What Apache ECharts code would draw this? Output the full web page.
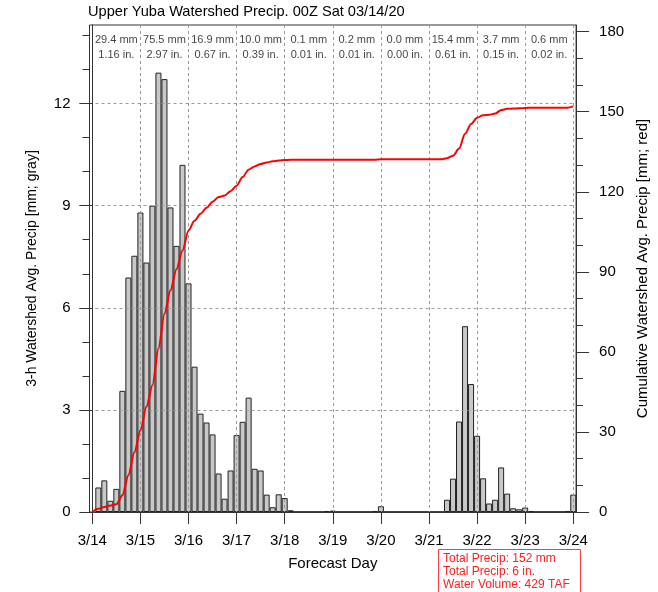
<!DOCTYPE html>
<html>
<head>
<meta charset="utf-8">
<title>Upper Yuba Watershed Precip</title>
<script src="https://cdn.jsdelivr.net/npm/echarts@6/dist/echarts.min.js"></script>
<style>
  html, body { margin: 0; padding: 0; background: #fff; }
  #chart { width: 658px; height: 592px; }
</style>
</head>
<body>
<div id="chart"></div>
<script>
// hours are counted from 00Z 3/14, each bar is the 3-h total ending at its hour
var dayHours = [0, 24, 48, 72, 96, 120, 144, 168, 192, 216, 240];
var dayLabels = ['3/14', '3/15', '3/16', '3/17', '3/18', '3/19', '3/20', '3/21', '3/22', '3/23', '3/24'];

// daily totals printed along the top
var dayMm = [29.4, 75.5, 16.9, 10.0, 0.1, 0.2, 0.0, 15.4, 3.7, 0.6];
var dayIn = [1.16, 2.97, 0.67, 0.39, 0.01, 0.01, 0.00, 0.61, 0.15, 0.02];

// 3-h watershed avg precip [mm], hours 3..240
var precip3h = [
  0.72, 0.93, 0.33, 0.68, 3.56, 6.89, 7.53, 8.80,
  7.33, 9.00, 12.91, 12.72, 8.95, 7.82, 10.20, 6.72,
  4.27, 2.89, 2.63, 2.28, 1.13, 0.39, 1.22, 2.26,
  2.65, 3.36, 1.27, 1.22, 0.51, 0.14, 0.52, 0.41,
  0.05, 0, 0, 0, 0, 0, 0.03, 0.04,
  0, 0, 0, 0, 0, 0, 0.03, 0.17,
  0, 0, 0, 0, 0, 0, 0, 0,
  0, 0, 0.36, 0.98, 2.66, 5.46, 3.76, 2.24,
  0.99, 0.25, 0.36, 1.31, 0.54, 0.11, 0.08, 0.13,
  0.03, 0, 0, 0, 0, 0, 0.03, 0.51
];

// cumulative precip [mm], hours 0..240 every 3 h
var cumPrecip = [
  0, 1.2, 1.9, 2.4, 2.9, 6.3, 13.8, 22.4,
  30.6, 39.4, 47.5, 61.2, 74.3, 83.1, 91.0, 98.0,
  105.5, 109.1, 111.8, 114.0, 116.3, 118.0, 118.6, 120.2,
  122.3, 125.5, 128.3, 129.5, 130.4, 131.0, 131.4, 131.7,
  131.9, 132.0, 132.0, 132.0, 132.0, 132.0, 132.0, 132.0,
  132.0, 132.0, 132.0, 132.0, 132.0, 132.0, 132.0, 132.0,
  132.2, 132.2, 132.2, 132.2, 132.2, 132.2, 132.2, 132.2,
  132.2, 132.2, 132.2, 132.6, 133.5, 136.2, 141.7, 145.4,
  147.7, 148.7, 148.9, 149.3, 150.6, 151.1, 151.2, 151.3,
  151.4, 151.5, 151.5, 151.5, 151.5, 151.5, 151.5, 151.5,
  152.0
];

var leftTicks = [0, 3, 6, 9, 12];
var leftMinor = [0, 1, 2, 3, 4, 5, 6, 7, 8, 9, 10, 11, 12, 13, 14];
var rightTicks = [0, 30, 60, 90, 120, 150, 180];
var rightMinor = [0, 10, 20, 30, 40, 50, 60, 70, 80, 90, 100, 110, 120, 130, 140, 150, 160, 170, 180];

var totalMm = 152, totalIn = 6, volumeTaf = 429;

var barData = [];
for (var i = 0; i < precip3h.length; i++) barData.push([(i + 1) * 3, precip3h[i]]);
var cumData = [];
for (var j = 0; j < cumPrecip.length; j++) cumData.push([j * 3, cumPrecip[j]]);
var noteData = [];
for (var d = 0; d < dayMm.length; d++) noteData.push([dayHours[d] + 12, 13.65]);

var axisColor = '#333';
var dash = { color: '#9a9a9a', type: [3, 3], width: 1 };
var font = 'Liberation Sans, Arial, Helvetica, sans-serif';

var chart = echarts.init(document.getElementById('chart'));
var option = {
  animation: false,
  textStyle: { fontFamily: font, color: '#000' },
  title: {
    text: 'Upper Yuba Watershed Precip. 00Z Sat 03/14/20',
    left: 88, top: 4, padding: 0,
    textStyle: { fontSize: 14.6, fontWeight: 'normal', color: '#000', fontFamily: font }
  },
  grid: { left: 89.5, right: 81.3, top: 25, bottom: 80, show: true, borderColor: axisColor, borderWidth: 1 },
  xAxis: {
    type: 'value', min: -1.4, max: 241.4, z: 3,
    name: 'Forecast Day', nameLocation: 'middle', nameGap: 44,
    nameTextStyle: { fontSize: 15, color: '#000' },
    axisLine: { show: true, lineStyle: { color: axisColor } },
    axisTick: { show: true, customValues: dayHours, length: 12, lineStyle: { color: axisColor } },
    axisLabel: {
      customValues: dayHours, fontSize: 15, margin: 21, color: '#000',
      formatter: function (v) { return dayLabels[dayHours.indexOf(v)]; }
    },
    splitLine: { show: true, lineStyle: dash }
  },
  yAxis: [{
    type: 'value', position: 'left', min: 0, max: 14.31, z: 3,
    name: '3-h Watershed Avg. Precip [mm; gray]', nameLocation: 'middle', nameGap: 50,
    nameTextStyle: { fontSize: 14, color: '#000' },
    axisLine: { show: true, lineStyle: { color: axisColor } },
    axisTick: { show: true, customValues: leftTicks, length: 13, lineStyle: { color: axisColor } },
    axisLabel: { customValues: leftTicks, fontSize: 15, margin: 19, color: '#000' },
    splitLine: { show: true, lineStyle: dash }
  }, {
    type: 'value', position: 'right', min: 0, max: 182.5, z: 3,
    name: 'Cumulative Watershed Avg. Precip [mm; red]', nameLocation: 'middle', nameGap: 57, nameRotate: 90,
    nameTextStyle: { fontSize: 15, color: '#000' },
    axisLine: { show: true, lineStyle: { color: axisColor } },
    axisTick: { show: true, customValues: rightTicks, length: 13, lineStyle: { color: axisColor } },
    axisLabel: { customValues: rightTicks, fontSize: 15, margin: 23, color: '#000' },
    splitLine: { show: false }
  }, {
    type: 'value', position: 'left', min: 0, max: 14.31, z: 3,
    axisLine: { show: false },
    axisTick: { show: true, customValues: leftMinor, length: 7, lineStyle: { color: axisColor } },
    axisLabel: { show: false },
    splitLine: { show: false }
  }, {
    type: 'value', position: 'right', min: 0, max: 182.5, z: 3,
    axisLine: { show: false },
    axisTick: { show: true, customValues: rightMinor, length: 7, lineStyle: { color: axisColor } },
    axisLabel: { show: false },
    splitLine: { show: false }
  }],
  series: [{
    type: 'bar', xAxisIndex: 0, yAxisIndex: 0,
    data: barData, barWidth: 6.02, z: 2,
    itemStyle: { color: '#c8c8c8', borderColor: '#222', borderWidth: 1 }
  }, {
    type: 'line', xAxisIndex: 0, yAxisIndex: 1,
    data: cumData, smooth: 0.3, smoothMonotone: 'x', showSymbol: false, z: 6,
    lineStyle: { color: '#ff0000', width: 2 }
  }, {
    type: 'scatter', xAxisIndex: 0, yAxisIndex: 0,
    data: noteData, symbolSize: 0, silent: true, z: 6,
    label: {
      show: true, position: 'inside', fontSize: 11, lineHeight: 15, color: '#111',
      formatter: function (p) {
        return dayMm[p.dataIndex].toFixed(1) + ' mm\n' + dayIn[p.dataIndex].toFixed(2) + ' in.';
      }
    }
  }],
  graphic: [{
    type: 'rect', left: 438, top: 549, z: 10,
    shape: { width: 142, height: 50 },
    style: { fill: '#fff', stroke: '#ff3b3b', lineWidth: 1 }
  }, {
    type: 'text', left: 443, top: 552, z: 11,
    style: {
      text: ['Total Precip: ' + totalMm + ' mm', 'Total Precip: ' + totalIn + ' in.', 'Water Volume: ' + volumeTaf + ' TAF'].join('\n'),
      fill: '#ff2020', font: '12px ' + font, lineHeight: 13
    }
  }]
};
chart.setOption(option);
</script>
</body>
</html>
